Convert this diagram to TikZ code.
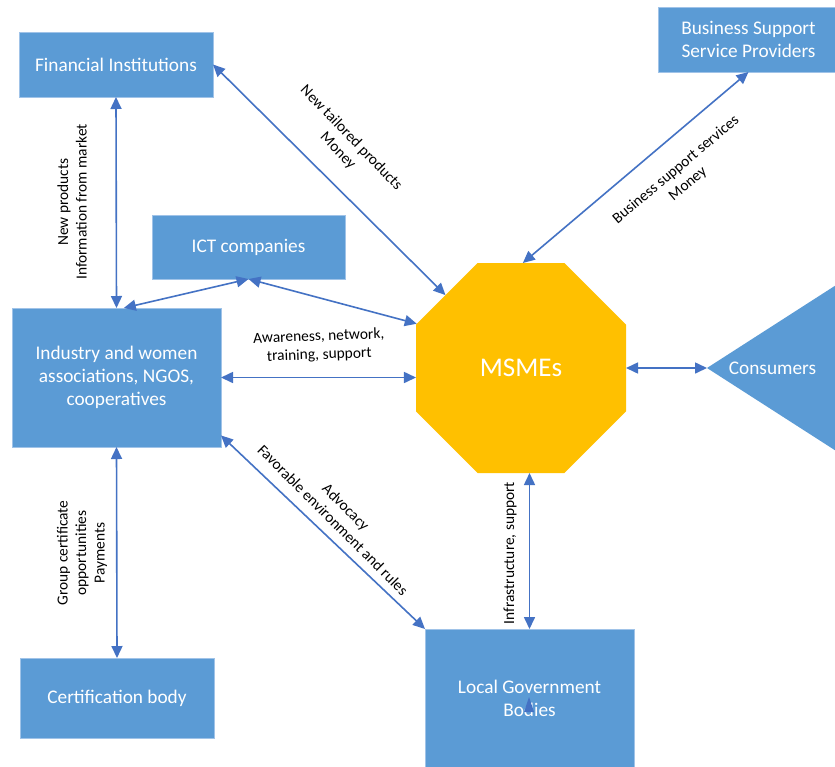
\documentclass[tikz,border=0pt]{standalone}
\usepackage{fontspec}
\setmainfont{Carlito}
\usetikzlibrary{arrows.meta,shapes.geometric,calc}
\definecolor{boxblue}{RGB}{91,155,213}
\definecolor{boxedge}{RGB}{160,195,232}
\definecolor{msorange}{RGB}{255,192,0}
\definecolor{linkblue}{RGB}{68,114,196}
\begin{document}
\begin{tikzpicture}[x=1pt,y=-1pt,
  actor/.style={rectangle, fill=boxblue, draw=boxedge, line width=0.8pt, text=white,
    font=\fontsize{19.3}{23}\selectfont, align=center, inner sep=0pt, outer sep=0pt},
  hub/.style={regular polygon, regular polygon sides=8, minimum size=227.3pt,
    fill=msorange, inner sep=0pt, outer sep=0pt, text=white, font=\fontsize{27}{32}\selectfont},
  flow/.style={linkblue, line width=1.6pt,
    {Triangle[length=12pt,width=11pt]}-{Triangle[length=12pt,width=11pt]}},
  flowtext/.style={font=\fontsize{15.4}{18.5}\selectfont, align=center, inner sep=0pt, text=black}]
\useasboundingbox (0,0) rectangle (835,766);
\clip (0,0) rectangle (835,766);
\fill[white] (0,0) rectangle (835,766);

% actors
\node[actor, minimum width=194pt, minimum height=65pt] (fin) at (116,64.5) {Financial Institutions};
\node[actor, minimum width=181pt, minimum height=65pt] (bssp) at (748.5,39.5) {Business Support\\Service Providers};
\node[actor, minimum width=193pt, minimum height=64pt] (ict) at (248.5,247) {ICT companies};
\node[actor, minimum width=209pt, minimum height=139pt] (ind) at (116.5,377.5) {Industry and women\\associations, NGOS,\\cooperatives};
\node[actor, minimum width=194pt, minimum height=80pt] (cert) at (117,698) {Certification body};
\node[actor, minimum width=209pt, minimum height=139pt] (lg) at (529.5,698.5) {Local Government\\Bodies};

% central enterprises
\node[hub] (ms) at (521,368) {MSMEs};

% consumers wedge
\coordinate (constip) at (707,368);
\fill[boxblue] (constip) -- (900,244) -- (900,492) -- cycle;
\node[text=white, font=\fontsize{19.3}{23}\selectfont, inner sep=0pt] (cons) at (772.5,368) {Consumers};

% flows
\draw[flow] (fin.south) -- (ind.north);
\draw[flow] (fin.east) -- (ms.136);
\draw[flow] (bssp.south) -- (ms.89);
\draw[flow] (ict.south) -- (ind.84);
\draw[flow] (ict.south) -- (ms.157);
\draw[flow] (ind.east) -- (ind.east -| ms.west);
\draw[flow] (ind.-29.7) -- (lg.north west);
\draw[flow] (ind.south) -- (cert.north);
\draw[flow] (lg.north |- ms.south) -- (lg.north);
\draw[flow] (ms.east) -- (constip);

% small tip over the government label
\fill[linkblue] (524,712) -- (529,697) -- (534,712) -- cycle;

% flow labels
\node[flowtext, rotate=90] (lfin) at (72,202) {New products\\Information from market};
\node[flowtext, rotate=-46] (lfinms) at (344.5,144.5) {New tailored products\\Money};
\node[flowtext, rotate=40] (lbssp) at (682,177) {Business support services\\Money};
\node[flowtext, rotate=2] (lind) at (319,346) {Awareness, network,\\training, support};
\node[flowtext, rotate=-45] (llg) at (339.5,513.5) {Advocacy\\Favorable environment and rules};
\node[flowtext, rotate=90] (lcert) at (82,553) {Group certificate\\opportunities\\Payments};
\node[flowtext, rotate=90] (linfra) at (510,553) {Infrastructure, support};
\end{tikzpicture}
\end{document}
